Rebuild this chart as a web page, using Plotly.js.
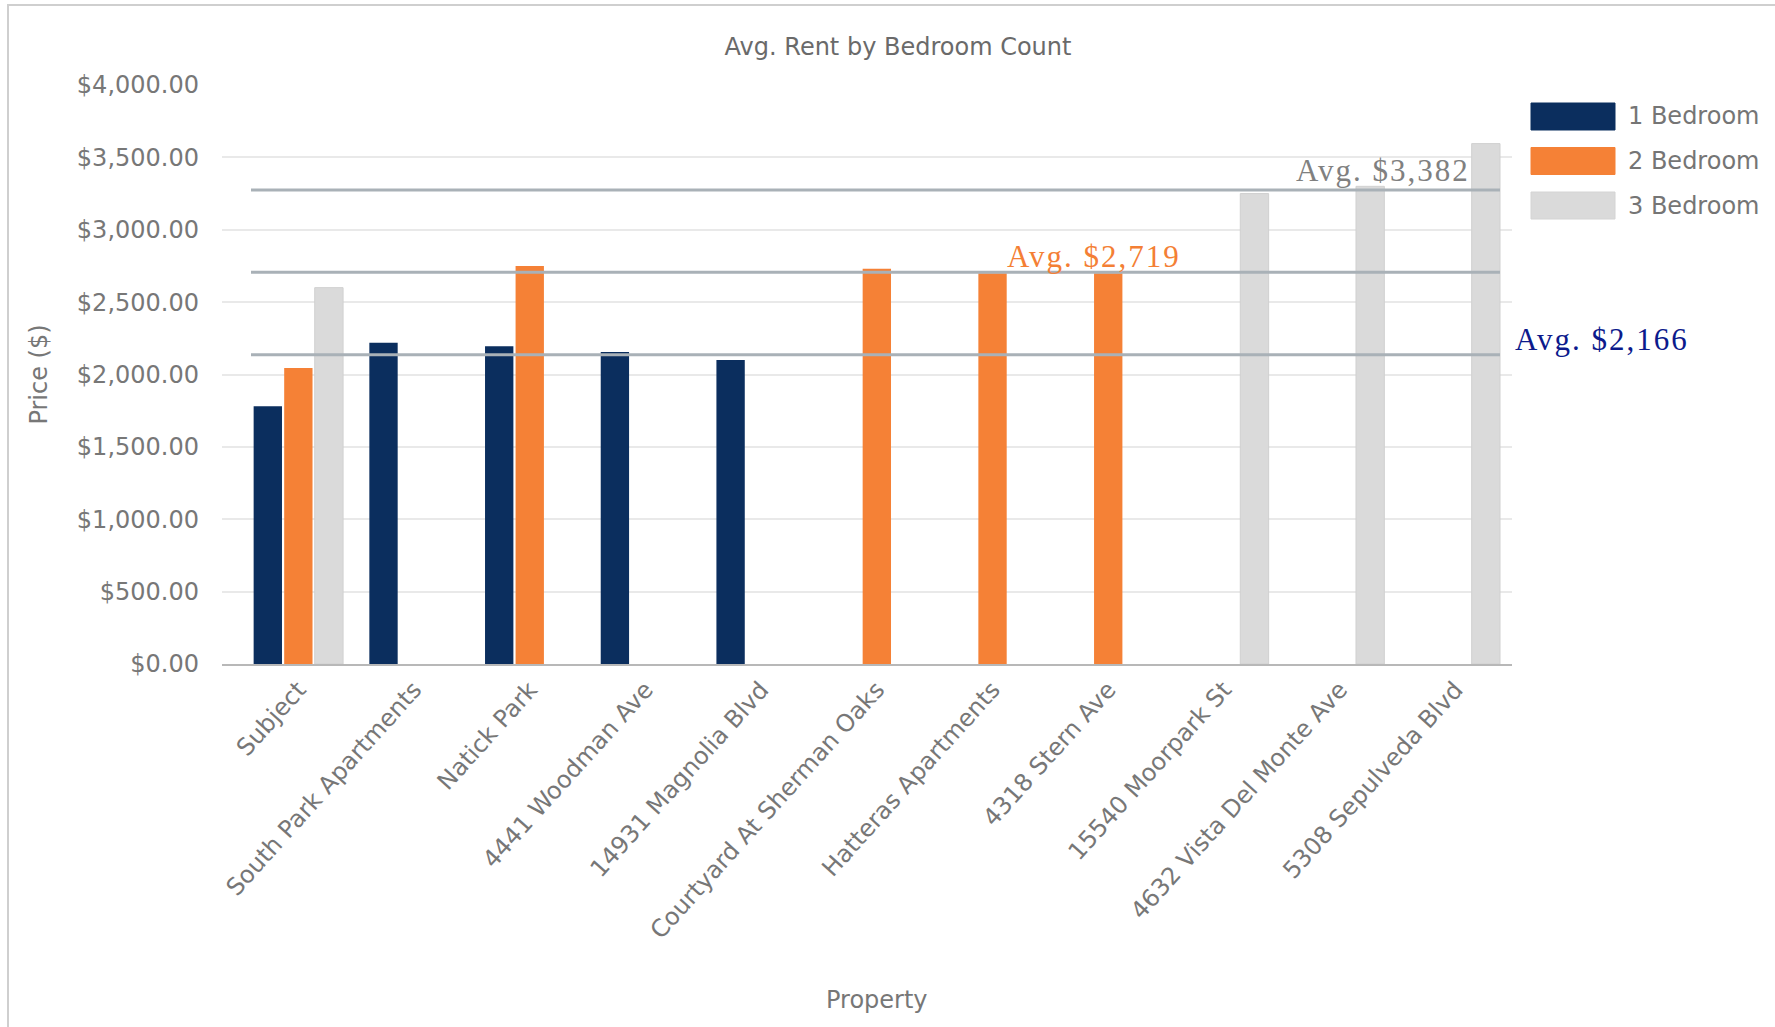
<!DOCTYPE html>
<html>
<head>
<meta charset="utf-8">
<script src="https://cdn.plot.ly/plotly-3.0.1.min.js"></script>
<style>
  html, body { margin: 0; padding: 0; background: #fff; overflow: hidden; }
  #chart { width: 1775px; height: 1027px; position: absolute; left: 0; top: 0; }
  #frame { position: absolute; left: 7px; top: 4px; width: 1850px; height: 1100px;
           border: 2px solid #cfcfcf; pointer-events: none; }
  #chart g.annotation[data-index="0"] text,
  #chart g.annotation[data-index="1"] text,
  #chart g.annotation[data-index="2"] text { letter-spacing: 2px; }
</style>
</head>
<body>
<div id="chart"></div>
<div id="frame"></div>
<script>
// ---- data ----
const properties = ["Subject", "South Park Apartments", "Natick Park", "4441 Woodman Ave",
  "14931 Magnolia Blvd", "Courtyard At Sherman Oaks", "Hatteras Apartments", "4318 Stern Ave",
  "15540 Moorpark St", "4632 Vista Del Monte Ave", "5308 Sepulveda Blvd"];
const oneBedroom   = [1780, 2220, 2195, 2155, 2100, null, null, null, null, null, null];
const twoBedroom   = [2045, null, 2750, null, null, 2730, 2700, 2700, null, null, null];
const threeBedroom = [2600, null, null, null, null, null, null, null, 3250, 3300, 3595];
const seriesNames  = ["1 Bedroom", "2 Bedroom", "3 Bedroom"];
const avgLabels    = ["Avg. $2,166", "Avg. $2,719", "Avg. $3,382"];
const avgLineLevels = [2136, 2706, 3274];

// ---- styling / layout helpers ----
const W = 1775, H = 1027;
const L = 222, R = 1512, T = 85, B = 664;
const px2x = p => (p - L) / (R - L);
const py2y = p => (B - p) / (B - T);
const colors = ["#0b2e5e", "#f58136", "#dadada"];
const lineColors = ["#0c1a8c", "#f47f35", "#808080"];
const sans = "DejaVu Sans, Verdana, sans-serif";
const serif = "Liberation Serif, Times New Roman, serif";

const seriesValues = [oneBedroom, twoBedroom, threeBedroom];
const traces = seriesValues.map((vals, i) => ({
  type: "bar",
  name: seriesNames[i],
  x: properties,
  y: vals,
  marker: { color: colors[i], line: { width: i === 2 ? 1 : 0, color: "#d0d0d0" } },
  hoverinfo: "x+y+name"
}));

const shapes = [];
const annotations = [];

// average labels (annotation indices 0..2)
const labelPos = [
  { x: 1524, y: 339, anchor: "left" },
  { x: 1016, y: 256, anchor: "left" },
  { x: 1461, y: 170, anchor: "right" }
];
avgLabels.forEach((t, i) => {
  annotations.push({ text: t, xref: "paper", yref: "paper", x: px2x(labelPos[i].x), y: py2y(labelPos[i].y),
    xanchor: labelPos[i].anchor, yanchor: "middle", showarrow: false,
    font: { family: serif, size: 31, color: lineColors[i] } });
});

// average lines
avgLineLevels.forEach(v => {
  shapes.push({ type: "line", xref: "paper", yref: "y", x0: px2x(251), x1: px2x(1500),
    y0: v, y1: v, line: { color: "#a9b1b7", width: 3 } });
});

// custom legend
seriesNames.forEach((n, i) => {
  const top = 103 + i * 44.5, bot = top + 27;
  shapes.push({ type: "rect", xref: "paper", yref: "paper", x0: px2x(1531), x1: px2x(1615),
    y0: py2y(bot), y1: py2y(top), fillcolor: colors[i], line: { width: 1, color: i === 2 ? "#d4d4d4" : colors[i] } });
  annotations.push({ text: n, xref: "paper", yref: "paper", x: px2x(1626), y: py2y((top + bot) / 2),
    xanchor: "left", yanchor: "middle", showarrow: false,
    font: { family: sans, size: 24, color: "#757575" } });
});

// x-axis title placed as in the reference
annotations.push({ text: "Property", xref: "paper", yref: "paper", x: px2x(877), y: py2y(1000),
  xanchor: "center", yanchor: "middle", showarrow: false,
  font: { family: sans, size: 24, color: "#777" } });

const layout = {
  width: W, height: H,
  paper_bgcolor: "#fff", plot_bgcolor: "#fff",
  margin: { l: L, r: W - R, t: T, b: H - B, pad: 0 },
  showlegend: false,
  barmode: "group",
  bargap: 0.208,
  bargroupgap: 0.072,
  title: { text: "Avg. Rent by Bedroom Count", x: 898 / W, xref: "container", xanchor: "center",
    y: 1 - 47 / H, yref: "container", yanchor: "middle",
    font: { family: sans, size: 24, color: "#6a6a6a" } },
  xaxis: {
    type: "category", range: [-0.66, 10.49], automargin: false,
    tickangle: -48, ticks: "", showgrid: false, zeroline: false,
    showline: true, linecolor: "#b8b8b8", linewidth: 2,
    tickfont: { family: sans, size: 24, color: "#777" }
  },
  yaxis: {
    range: [0, 4000], dtick: 500, automargin: false,
    tickprefix: "$", tickformat: ",.2f", ticks: "", ticklabelstandoff: 22,
    showgrid: true, gridcolor: "#e9e9e9", gridwidth: 2, zeroline: false, showline: false,
    tickfont: { family: sans, size: 24, color: "#777" },
    title: { text: "Price ($)", standoff: 22, font: { family: sans, size: 24, color: "#777" } }
  },
  shapes: shapes,
  annotations: annotations
};

Plotly.newPlot("chart", traces, layout, { displayModeBar: false, responsive: false });
</script>
</body>
</html>
